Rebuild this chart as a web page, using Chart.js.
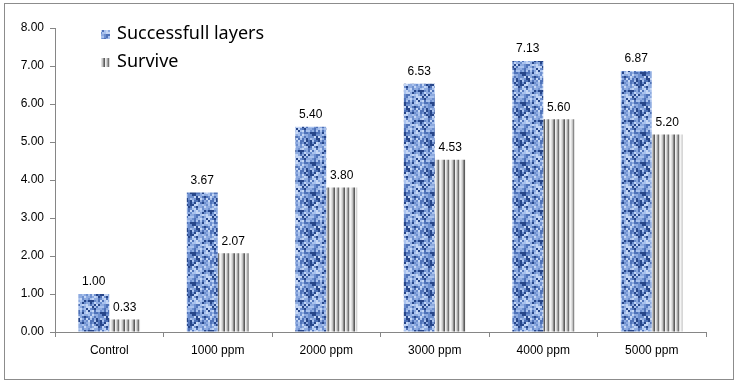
<!DOCTYPE html>
<html>
<head>
<meta charset="utf-8">
<script src="https://cdn.jsdelivr.net/npm/chart.js@4"></script>
<style>
  html, body { margin: 0; padding: 0; background: #fff; }
  #wrap { width: 738px; height: 387px; position: relative; }
</style>
</head>
<body>
<div id="wrap"><canvas id="myChart"></canvas></div>
<script>
var categories = ['Control', '1000 ppm', '2000 ppm', '3000 ppm', '4000 ppm', '5000 ppm']
var successful = [1.00, 3.67, 5.40, 6.53, 7.13, 6.87]
var survive = [0.33, 2.07, 3.80, 4.53, 5.60, 5.20]
var seriesNames = ['Successfull layers', 'Survive']
var yTicks = [0, 1, 2, 3, 4, 5, 6, 7, 8]

// blue woven texture
function bluePattern () {
  var c = document.createElement('canvas')
  c.width = 30; c.height = 30
  var g = c.getContext('2d')
  var cols = ['#27468a', '#4f72b8', '#6d8fcf', '#8eabe0', '#a9c2ee', '#c4d6f5']
  for (var y = 0; y < 30; y += 2) {
    for (var x = 0; x < 30; x += 2) {
      var v = Math.sin(x * 12.9898 + y * 78.233) * 43758.5453
      v = v - Math.floor(v)
      g.fillStyle = cols[Math.floor(v * cols.length)]
      g.fillRect(x, y, 2, 2)
    }
  }
  return g.createPattern(c, 'repeat')
}

// grey vertical stripes
function stripePattern () {
  var c = document.createElement('canvas')
  c.width = 10; c.height = 4
  var g = c.getContext('2d')
  var cols = ['#f4f4f4', '#e0e0e0', '#c4c4c4', '#8a8a8a', '#5c5c5c', '#eeeeee', '#d4d4d4', '#a6a6a6', '#747474', '#dadada']
  for (var x = 0; x < 10; x++) {
    g.fillStyle = cols[x]
    g.fillRect(x, 0, 1, 4)
  }
  return g.createPattern(c, 'repeat')
}

var fills = [bluePattern(), stripePattern()]

var extras = {
  id: 'extras',
  beforeDraw: function (chart) {
    var ctx = chart.ctx
    ctx.save()
    ctx.strokeStyle = '#8c8c8c'
    ctx.lineWidth = 1
    ctx.strokeRect(4.5, 3.5, 729, 376)
    ctx.restore()
  },
  afterDatasetsDraw: function (chart) {
    var ctx = chart.ctx
    ctx.save()
    ctx.font = '12px "Liberation Sans", Arial, sans-serif'
    ctx.fillStyle = '#000'
    ctx.textAlign = 'center'
    ctx.textBaseline = 'bottom'
    chart.data.datasets.forEach(function (ds, di) {
      chart.getDatasetMeta(di).data.forEach(function (bar, i) {
        ctx.fillText(ds.data[i].toFixed(2), bar.x, bar.y - 6)
      })
    })
    // legend inside plot
    ctx.font = '18px "Noto Sans", sans-serif'
    ctx.textAlign = 'left'
    ctx.textBaseline = 'middle'
    seriesNames.forEach(function (name, i) {
      var y = 34 + i * 28
      ctx.fillStyle = fills[i]
      ctx.fillRect(101, y - 4, 9, 9)
      ctx.fillStyle = '#000'
      ctx.fillText(name, 117, y)
    })
    ctx.restore()
  }
}

new Chart(document.getElementById('myChart'), {
  type: 'bar',
  data: {
    labels: categories,
    datasets: [
      { label: seriesNames[0], data: successful, backgroundColor: fills[0] },
      { label: seriesNames[1], data: survive, backgroundColor: fills[1] }
    ]
  },
  options: {
    responsive: true,
    maintainAspectRatio: false,
    animation: false,
    devicePixelRatio: 1,
    categoryPercentage: 0.57,
    barPercentage: 1,
    layout: { padding: { left: 5, right: 32, top: 28, bottom: 10 } },
    plugins: { legend: { display: false }, tooltip: { enabled: false } },
    scales: {
      x: {
        grid: { drawOnChartArea: false, offset: true, tickLength: 5, color: '#868686' },
        border: { color: '#868686' },
        ticks: { color: '#000', font: { family: '"Liberation Sans", Arial, sans-serif', size: 12 }, padding: 6 },
        afterFit: function (s) { s.height = 45 }
      },
      y: {
        min: 0,
        max: 8,
        afterBuildTicks: function (s) { s.ticks = yTicks.map(function (v) { return { value: v } }) },
        grid: { drawOnChartArea: false, tickLength: 5, color: '#868686' },
        border: { color: '#868686' },
        ticks: {
          color: '#000',
          font: { family: '"Liberation Sans", Arial, sans-serif', size: 12 },
          padding: 6,
          callback: function (v) { return Number(v).toFixed(2) }
        },
        afterFit: function (s) { s.width = 50 }
      }
    }
  },
  plugins: [extras]
})
</script>
</body>
</html>
